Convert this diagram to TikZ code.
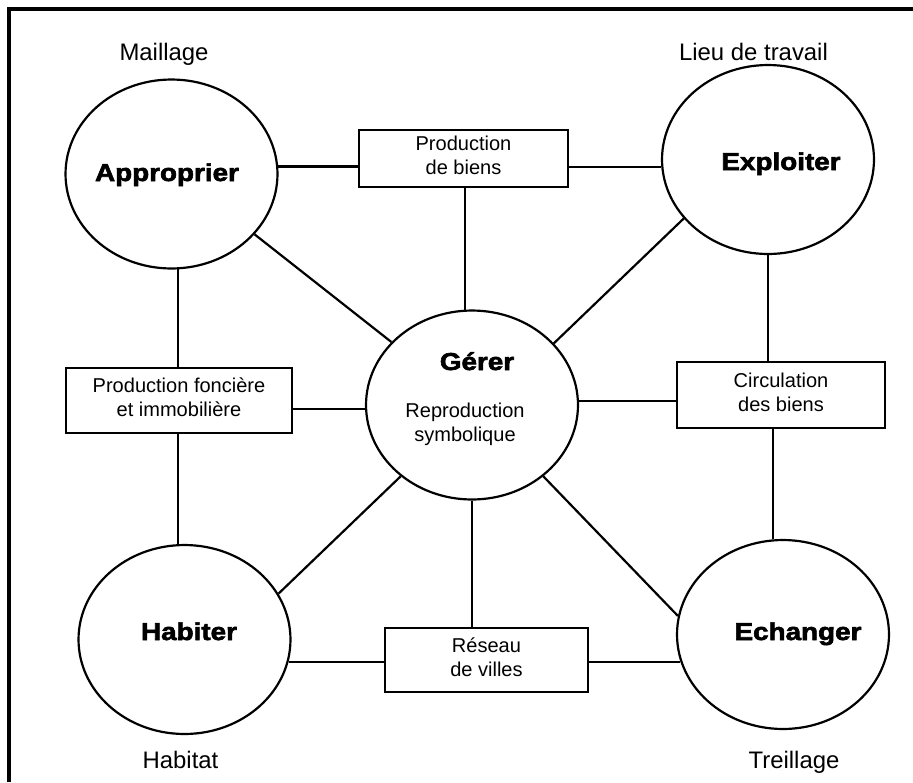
\documentclass[tikz,border=0pt]{standalone}
\usepackage{fontspec}
\setmainfont{Liberation Sans}
\newfontfamily\heavyfont[FakeStretch=1.14,FakeBold=2.5]{Liberation Sans Bold}
\usepackage{tikz}
\usetikzlibrary{shapes.geometric, calc}
\tikzset{
  %% ---- spheres ----
  sphere/.style = {ellipse, draw=black, line width=1.25pt,
                   minimum width=4.24cm, minimum height=3.78cm, inner sep=0pt},
  verb/.style   = {anchor=base, inner sep=0pt,
                   font=\heavyfont\fontsize{13.9}{16}\selectfont},
  place/.style  = {anchor=base, inner sep=0pt,
                   font=\fontsize{13.6}{16}\selectfont},
  note/.style   = {align=center, inner sep=0pt,
                   font=\fontsize{11.4}{13.6}\selectfont},
  %% ---- boxes ----
  actbox/.style = {rectangle, draw=black, line width=1.25pt, note,
                   text height=0.64cm, text depth=0cm},
  %% ---- lines ----
  link/.style   = {line width=1.25pt},
  frame/.style  = {line width=1.8pt, color=black},
}

\begin{document}
\begin{tikzpicture}[x=0.02cm, y=-0.02cm]
  \useasboundingbox (0,0) rectangle (913,782);
  \draw[frame] (9,782) -- (9,9) -- (913,9);

  %% the five spheres
  \node[sphere] (app)   at (171.5,174)   {};
  \node[sphere] (expl)  at (768,159.5)   {};
  \node[sphere] (gerer) at (472,405)     {};
  \node[sphere] (hab)   at (184.5,639.5) {};
  \node[sphere] (ech)   at (783,634.5)   {};

  \node[verb] (appT)  at (167,181) {Approprier};
  \node[verb] (explT) at (781,170) {Exploiter};
  \node[verb] (habT)  at (189,640) {Habiter};
  \node[verb] (echT)  at (798,640) {Echanger};
  \node[verb] (gerT)  at (477,370) {Gérer};
  \node[note, anchor=base] (gerS) at (465,441) {Reproduction\\symbolique};

  %% place names outside
  \node[place] (appL)  at (164,60)   {Maillage};
  \node[place] (explL) at (753.5,60) {Lieu de travail};
  \node[place] (habL)  at (180.5,768) {Habitat};
  \node[place] (echL)  at (794,768)  {Treillage};

  %% boxes between spheres
  \node[actbox, minimum width=4.18cm, minimum height=1.14cm]
    (biens) at (463.5,158.5) {Production\\de biens};
  \node[actbox, minimum width=4.52cm, minimum height=1.30cm]
    (fonc) at (179,400.5) {Production foncière\\et immobilière};
  \node[actbox, minimum width=4.16cm, minimum height=1.32cm]
    (circ) at (781,395) {Circulation\\des biens};
  \node[actbox, minimum width=4.06cm, minimum height=1.28cm]
    (res) at (486.5,660) {Réseau\\de villes};

  %% ring of links
  \draw[link] (app.4)    -- (app.4 -| biens.west);
  \draw[link] (expl.184) -- (expl.184 -| biens.east);
  \draw[link] (app.-86)  -- (app.-86 |- fonc.north);
  \draw[link] (hab.94)   -- (hab.94 |- fonc.south);
  \draw[link] (expl.south) -- (expl.south |- circ.north);
  \draw[link] (ech.96)   -- (ech.96 |- circ.south);
  \draw[link] (hab.-12)  -- (hab.-12 -| res.west);
  \draw[link] (ech.195)  -- (ech.195 -| res.east);

  %% spokes to the centre
  \draw[link] (gerer.94)  -- (gerer.94 |- biens.south);
  \draw[link] (gerer.182) -- (gerer.182 -| fonc.east);
  \draw[link] (gerer.2)   -- (gerer.2 -| circ.west);
  \draw[link] (gerer.south) -- (gerer.south |- res.north);
  \draw[link] (app.-36)  -- (gerer.142);
  \draw[link] (gerer.37) -- (expl.215);
  \draw[link] (hab.26)   -- (gerer.225);
  \draw[link] (gerer.-45) -- (ech.170);

\end{tikzpicture}
\end{document}
